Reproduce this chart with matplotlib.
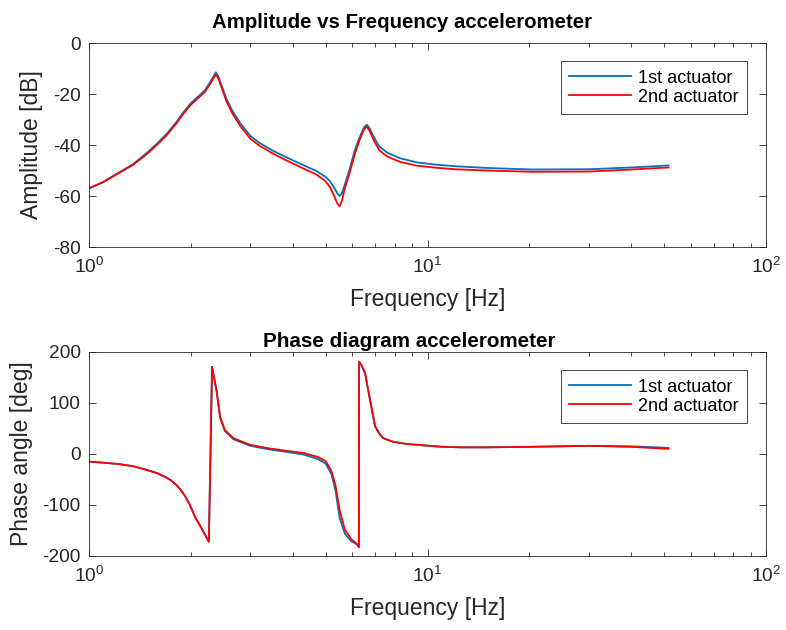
import matplotlib.pyplot as plt

plt.rcParams['font.family'] = ['Liberation Sans', 'DejaVu Sans']
plt.rcParams['mathtext.fontset'] = 'custom'
plt.rcParams['mathtext.rm'] = 'Liberation Sans'
plt.rcParams['mathtext.default'] = 'regular'
plt.rcParams['axes.unicode_minus'] = False

# amplitude data
f_amp = [1.0, 1.1, 1.2, 1.35, 1.5, 1.6, 1.7, 1.8, 1.9, 2.0, 2.1, 2.2, 2.3, 2.37, 2.41,
         2.47, 2.55, 2.65, 2.8, 3.0, 3.2, 3.5, 3.8, 4.2, 4.7, 5.0, 5.15, 5.3, 5.42, 5.5,
         5.58, 5.7, 5.9, 6.1, 6.3, 6.5, 6.62, 6.75, 6.95, 7.2, 7.6, 8.3, 9.3, 10.4, 12,
         15, 20.5, 30, 40, 51.5]
amp1 = [-57, -54.5, -51.5, -47.5, -42.5, -39, -35.5, -31.5, -27.2, -23.6, -21, -18.5, -14.5, -11.5, -13,
        -17, -22, -26.5, -31.5, -36.5, -39.3, -42.3, -44.6, -47.3, -50.2, -52.5, -54.2, -56.7, -59, -60,
        -59, -55.5, -49, -42, -37, -33, -32, -33.5, -37, -40.5, -43, -45.2, -46.8, -47.6, -48.3,
        -49, -49.6, -49.5, -48.8, -48]
amp2 = [-57, -54.6, -51.7, -47.8, -43, -39.5, -36, -32, -27.8, -24.2, -21.6, -19.2, -15.2, -12.3, -13.8,
        -17.8, -23, -27.5, -32.6, -37.6, -40.4, -43.4, -45.8, -48.6, -51.6, -54.2, -56.5, -60, -63, -64,
        -62, -57, -50.5, -43.5, -38, -33.8, -32.8, -34.5, -38.3, -42, -44.5, -46.6, -48.1, -48.8, -49.5,
        -50, -50.5, -50.4, -49.6, -48.8]

# phase data
f_ph = [1.0, 1.1, 1.22, 1.35, 1.46, 1.58, 1.68, 1.74, 1.8, 1.86, 1.92, 1.98, 2.06, 2.16, 2.26,
        2.31, 2.34, 2.38, 2.44, 2.52, 2.67, 2.99, 3.4, 3.75, 4.3, 4.75, 5.0, 5.2, 5.35, 5.5,
        5.7, 5.95, 6.2, 6.27, 6.28, 6.4, 6.54, 6.76, 7.0, 7.2, 7.4, 7.9, 8.68, 10.9, 12.5,
        15, 20, 30, 40, 51.5]
ph1 = [-15, -17, -19.6, -24, -30, -37, -45, -51, -59, -69, -82, -98, -124, -148, -172,
       171, 150, 125, 71, 45, 29, 16, 9, 5, -1, -10, -19, -39, -72, -125,
       -156, -171, -178, -182, 181, 172, 158, 106, 54, 40, 31, 24, 19.6, 14.3, 13,
       13, 14, 16, 15, 12]
ph2 = [-15, -17, -19.6, -24, -30, -37, -45, -51, -59, -69, -82, -98, -124, -148, -172,
       171, 151, 126, 73, 47, 31, 18, 11, 7, 2, -6, -14, -33, -62, -110,
       -148, -167, -177, -183, 181, 173, 159, 108, 55, 40, 31, 24, 19.6, 14.3, 13,
       13, 14, 16, 14, 10]

blue = '#0072BD'
red = '#FF0000'
grey = '#262626'

fig = plt.figure(figsize=(7.86, 6.3), dpi=100)
ax1 = fig.add_axes([0.1132, 0.6079, 0.8614, 0.3238])
ax2 = fig.add_axes([0.1132, 0.1175, 0.8614, 0.3238])

ax1.semilogx(f_amp, amp1, color=blue, lw=1.3, label='1st actuator')
ax1.semilogx(f_amp, amp2, color=red, lw=1.3, label='2nd actuator')
ax1.set_ylim(-80, 0)
ax1.set_yticks([-80, -60, -40, -20, 0])
ax1.set_ylabel('Amplitude [dB]', fontsize=16.5, color=grey)
ax1.yaxis.set_label_coords(-0.068, 0.5)
ax1.set_title('Amplitude vs Frequency accelerometer', fontsize=14.7, fontweight='bold',
              loc='left', x=0.1817, pad=11)

ax2.semilogx(f_ph, ph1, color=blue, lw=1.3, label='1st actuator')
ax2.semilogx(f_ph, ph2, color=red, lw=1.3, label='2nd actuator')
ax2.set_ylim(-200, 200)
ax2.set_yticks([-200, -100, 0, 100, 200])
ax2.set_ylabel('Phase angle [deg]', fontsize=16.5, color=grey)
ax2.yaxis.set_label_coords(-0.083, 0.5)
ax2.set_title('Phase diagram accelerometer', fontsize=14.9, fontweight='bold',
              loc='left', x=0.2575, pad=3.5)

for ax in (ax1, ax2):
    ax.set_xlim(1, 100)
    ax.set_xlabel('Frequency [Hz]', fontsize=16.5, color=grey, va='top')
    ax.xaxis.set_label_coords(0.5, -0.2)
    ax.tick_params(which='both', direction='in', top=True, right=True, colors=grey,
                   labelsize=13.8, width=0.6)
    ax.tick_params(which='major', length=5)
    ax.tick_params(which='minor', length=3)
    ax.tick_params(axis='x', pad=7)
    ax.tick_params(axis='y', pad=6)
    for s in ax.spines.values():
        s.set_color(grey)
        s.set_linewidth(0.6)
    leg = ax.legend(loc='upper right', bbox_to_anchor=(0.972, 0.91), borderaxespad=0,
                    fontsize=13.1, fancybox=False, edgecolor=grey, framealpha=1,
                    handlelength=3.4, handletextpad=0.4, borderpad=0.45, labelspacing=0.12)
    leg.get_frame().set_linewidth(0.6)

fig.savefig('out.png', dpi=100)
